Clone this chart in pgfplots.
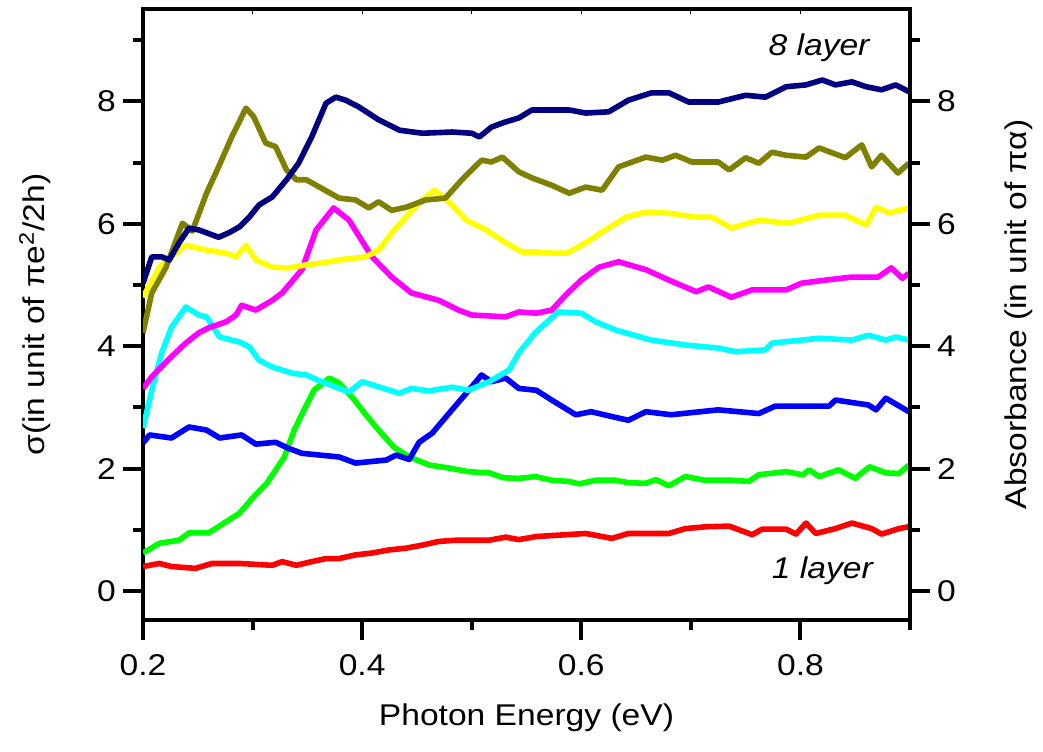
\documentclass[border=0pt]{standalone}
\usepackage{fontspec}
\setmainfont{Liberation Sans}[FakeStretch=1.12]
\usepackage{pgfplots}
\pgfplotsset{compat=1.18}

\definecolor{cRed}{RGB}{255,0,0}
\definecolor{cGreen}{RGB}{0,255,0}
\definecolor{cBlue}{RGB}{0,0,255}
\definecolor{cCyan}{RGB}{0,255,255}
\definecolor{cMagenta}{RGB}{255,0,255}
\definecolor{cYellow}{RGB}{255,255,0}
\definecolor{cOlive}{RGB}{128,128,0}
\definecolor{cNavy}{RGB}{0,0,128}
\newcommand{\fs}{\fontsize{15pt}{18pt}\selectfont}

\pgfplotsset{
  common/.style={
    scale only axis, width=383.5pt, height=305.5pt,
    xmin=0.2, xmax=0.9, ymin=-0.474, ymax=9.51,
    /pgf/number format/assume math mode=true,
    tick label style={font=\fs},
    every tick/.style={black, line width=2pt},
    axis line style={line width=2.2pt},
  },
  curve/.style={line width=2.8pt, line join=round, no markers},
}

\begin{document}
\begin{tikzpicture}
\useasboundingbox (-71.5pt,-65.5pt) rectangle (450pt,310pt);

\begin{axis}[common,
  tick align=outside,
  xtick={0.2,0.4,0.6,0.8}, minor xtick={0.3,0.5,0.7,0.9},
  ytick={0,2,4,6,8}, minor ytick={1,3,5,7,9},
  major tick length=10pt, minor tick length=5pt,
  xtick pos=left, ytick pos=left,
  xticklabels={0.2,0.4,0.6,0.8},
  yticklabels={0,2,4,6,8},
  xticklabel style={yshift=-3.5pt},
  xlabel={Photon Energy (eV)},
  ylabel={σ(in unit of πe\textsuperscript{2}/2h)},
  every axis x label/.style={at={(axis description cs:0.5,-0.160)}, anchor=center, font=\fs},
  every axis y label/.style={at={(axis description cs:-0.141,0.5)}, rotate=90, anchor=center, font=\fs},
]
% 1 layer
\addplot[curve, cRed] coordinates {
(0.200,0.40)(0.215,0.45)(0.226,0.40)(0.248,0.37)(0.263,0.45)(0.288,0.45)(0.318,0.42)
(0.327,0.48)(0.340,0.42)(0.354,0.48)(0.367,0.53)(0.379,0.53)(0.394,0.59)(0.409,0.62)
(0.424,0.67)(0.440,0.70)(0.455,0.75)(0.470,0.81)(0.486,0.83)(0.500,0.83)(0.516,0.83)
(0.531,0.88)(0.543,0.84)(0.559,0.89)(0.604,0.94)(0.628,0.86)(0.643,0.94)(0.680,0.94)
(0.695,1.02)(0.714,1.05)(0.735,1.06)(0.756,0.92)(0.765,1.01)(0.787,1.01)(0.796,0.93)
(0.805,1.11)(0.814,0.94)(0.832,1.02)(0.847,1.11)(0.865,1.02)(0.874,0.93)(0.890,1.02)
(0.899,1.05)};
% 2 layer
\addplot[curve, cGreen] coordinates {
(0.200,0.62)(0.215,0.78)(0.233,0.83)(0.242,0.95)(0.260,0.95)(0.274,1.11)(0.288,1.27)
(0.301,1.54)(0.313,1.76)(0.329,2.19)(0.338,2.63)(0.347,2.96)(0.356,3.28)(0.370,3.48)
(0.379,3.40)(0.393,3.12)(0.402,2.91)(0.415,2.63)(0.429,2.35)(0.443,2.19)(0.461,2.06)
(0.479,2.01)(0.497,1.95)(0.516,1.93)(0.529,1.85)(0.543,1.84)(0.558,1.87)(0.573,1.81)
(0.589,1.79)(0.598,1.75)(0.613,1.81)(0.631,1.81)(0.643,1.77)(0.659,1.76)(0.668,1.82)
(0.680,1.72)(0.695,1.87)(0.713,1.81)(0.738,1.81)(0.753,1.79)(0.762,1.90)(0.787,1.95)
(0.802,1.90)(0.808,1.98)(0.817,1.87)(0.835,1.98)(0.850,1.84)(0.863,2.03)(0.878,1.93)
(0.890,1.92)(0.899,2.06)};
% 3 layer
\addplot[curve, cBlue] coordinates {
(0.200,2.42)(0.206,2.55)(0.226,2.50)(0.242,2.68)(0.258,2.63)(0.270,2.50)(0.290,2.55)
(0.303,2.40)(0.321,2.43)(0.333,2.33)(0.345,2.25)(0.379,2.19)(0.394,2.09)(0.422,2.14)
(0.431,2.22)(0.443,2.15)(0.452,2.43)(0.464,2.58)(0.482,2.96)(0.495,3.23)(0.509,3.53)
(0.518,3.42)(0.531,3.48)(0.543,3.31)(0.559,3.28)(0.573,3.12)(0.595,2.88)(0.609,2.93)
(0.628,2.85)(0.643,2.79)(0.659,2.93)(0.682,2.88)(0.725,2.96)(0.762,2.90)(0.777,3.02)
(0.826,3.02)(0.832,3.12)(0.862,3.04)(0.869,2.96)(0.878,3.15)(0.899,2.93)};
% 4 layer
\addplot[curve, cCyan] coordinates {
(0.200,2.66)(0.208,3.28)(0.217,3.89)(0.226,4.31)(0.239,4.64)(0.251,4.51)(0.258,4.48)
(0.270,4.15)(0.288,4.07)(0.297,3.99)(0.306,3.77)(0.318,3.66)(0.336,3.56)(0.349,3.53)
(0.363,3.42)(0.388,3.25)(0.400,3.42)(0.434,3.23)(0.445,3.31)(0.461,3.27)(0.482,3.33)
(0.497,3.28)(0.516,3.42)(0.534,3.61)(0.543,3.89)(0.558,4.22)(0.579,4.56)(0.600,4.54)
(0.613,4.40)(0.632,4.26)(0.664,4.10)(0.695,4.02)(0.725,3.97)(0.741,3.91)(0.768,3.94)
(0.774,4.05)(0.817,4.13)(0.847,4.10)(0.862,4.18)(0.878,4.10)(0.887,4.15)(0.899,4.10)};
% 5 layer
\addplot[curve, cMagenta] coordinates {
(0.200,3.31)(0.208,3.50)(0.226,3.83)(0.239,4.05)(0.251,4.22)(0.260,4.30)(0.276,4.40)
(0.285,4.51)(0.290,4.67)(0.303,4.59)(0.318,4.75)(0.327,4.87)(0.345,5.25)(0.358,5.90)
(0.374,6.26)(0.388,6.06)(0.409,5.46)(0.427,5.13)(0.445,4.87)(0.470,4.75)(0.488,4.59)
(0.500,4.51)(0.531,4.48)(0.543,4.56)(0.559,4.54)(0.573,4.59)(0.586,4.84)(0.600,5.08)
(0.616,5.29)(0.634,5.38)(0.659,5.25)(0.680,5.08)(0.705,4.89)(0.716,4.97)(0.737,4.80)
(0.756,4.92)(0.787,4.92)(0.801,5.03)(0.823,5.08)(0.847,5.13)(0.871,5.13)(0.883,5.28)
(0.893,5.11)(0.899,5.19)};
% 6 layer
\addplot[curve, cYellow] coordinates {
(0.200,4.80)(0.215,5.29)(0.226,5.46)(0.239,5.65)(0.258,5.57)(0.276,5.52)(0.285,5.46)
(0.294,5.65)(0.303,5.41)(0.318,5.29)(0.333,5.28)(0.349,5.33)(0.363,5.36)(0.379,5.41)
(0.403,5.46)(0.415,5.57)(0.427,5.85)(0.440,6.11)(0.455,6.39)(0.466,6.55)(0.479,6.36)
(0.495,6.06)(0.513,5.90)(0.531,5.69)(0.546,5.54)(0.559,5.54)(0.573,5.52)(0.587,5.52)
(0.604,5.69)(0.622,5.90)(0.641,6.11)(0.659,6.19)(0.677,6.18)(0.705,6.11)(0.719,6.11)
(0.737,5.93)(0.762,6.06)(0.789,6.01)(0.817,6.14)(0.841,6.14)(0.860,5.98)(0.869,6.27)
(0.881,6.18)(0.899,6.26)};
% 7 layer
\addplot[curve, cOlive] coordinates {
(0.200,4.22)(0.208,4.87)(0.221,5.29)(0.236,6.01)(0.245,5.88)(0.258,6.50)(0.269,6.93)
(0.281,7.42)(0.294,7.89)(0.301,7.75)(0.312,7.32)(0.321,7.26)(0.331,6.88)(0.340,6.72)
(0.349,6.72)(0.361,6.60)(0.379,6.42)(0.394,6.39)(0.406,6.26)(0.415,6.36)(0.427,6.22)
(0.440,6.27)(0.458,6.39)(0.476,6.42)(0.491,6.72)(0.509,7.04)(0.518,7.01)(0.528,7.09)
(0.543,6.85)(0.555,6.75)(0.573,6.63)(0.589,6.50)(0.604,6.60)(0.619,6.55)(0.634,6.93)
(0.659,7.09)(0.674,7.04)(0.686,7.12)(0.701,7.01)(0.725,7.01)(0.735,6.88)(0.750,7.08)
(0.762,6.99)(0.774,7.17)(0.787,7.12)(0.805,7.09)(0.817,7.24)(0.829,7.16)(0.841,7.08)
(0.856,7.29)(0.865,6.93)(0.874,7.12)(0.889,6.83)(0.899,6.99)};
% 8 layer
\addplot[curve, cNavy] coordinates {
(0.200,5.03)(0.208,5.46)(0.217,5.46)(0.224,5.41)(0.233,5.69)(0.242,5.93)(0.251,5.90)
(0.269,5.78)(0.278,5.85)(0.288,5.95)(0.297,6.11)(0.306,6.31)(0.318,6.44)(0.331,6.72)
(0.342,6.99)(0.354,7.42)(0.367,7.97)(0.376,8.07)(0.385,8.02)(0.397,7.91)(0.415,7.70)
(0.434,7.53)(0.455,7.48)(0.482,7.50)(0.500,7.48)(0.507,7.42)(0.518,7.58)(0.530,7.66)
(0.543,7.73)(0.555,7.86)(0.589,7.86)(0.604,7.81)(0.625,7.83)(0.643,8.02)(0.664,8.14)
(0.680,8.14)(0.698,7.99)(0.725,7.99)(0.750,8.10)(0.768,8.07)(0.787,8.24)(0.805,8.27)
(0.820,8.35)(0.832,8.27)(0.847,8.32)(0.860,8.24)(0.874,8.19)(0.887,8.27)(0.899,8.16)};

\node[font=\fs\itshape] at (axis cs:0.817,8.87) {8 layer};
\node[font=\fs\itshape] at (axis cs:0.820,0.33) {1 layer};
\end{axis}

% right-hand axis
\begin{axis}[common,
  axis x line=none, axis y line*=right,
  tick align=outside,
  ytick={0,2,4,6,8}, minor ytick={1,3,5,7,9},
  yticklabels={0,2,4,6,8},
  major tick length=10pt, minor tick length=5pt,
  ylabel={Absorbance (in unit of πα)},
  every axis y label/.style={at={(axis description cs:1.142,0.5)}, rotate=90, anchor=center, font=\fs},
]
\end{axis}

% small inner ticks along the top edge
\begin{axis}[common,
  axis y line=none, axis x line*=top,
  axis line style={draw=none},
  tick align=inside,
  xtick={0.3,0.4,0.5,0.6,0.7,0.8}, xticklabels={},
  major tick length=2.5pt,
  every tick/.style={black, line width=0.6pt},
]
\end{axis}
\end{tikzpicture}
\end{document}
